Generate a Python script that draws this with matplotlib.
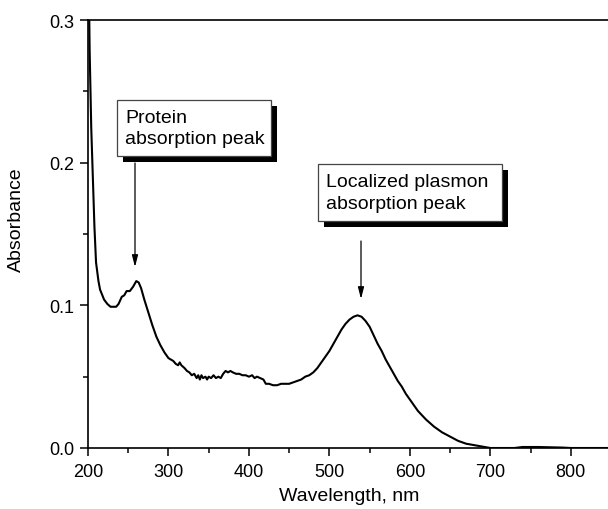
import matplotlib
matplotlib.use("Agg")
import matplotlib.pyplot as plt
from matplotlib.patches import Rectangle

plt.rcParams['font.family'] = ['Liberation Sans', 'DejaVu Sans']

wavelength = [200, 201, 202, 204, 206, 208, 210, 213, 215, 220, 224, 228, 232, 235, 238,
              242, 245, 248, 252, 256, 260, 263, 266, 270, 275, 280, 285, 290, 295,
              300, 303, 306, 309, 312, 314, 316, 318, 320, 323, 326, 329, 332, 335, 337,
              339, 341, 343, 346, 348, 350, 353, 356, 359, 362, 365, 368, 371, 374, 377,
              380, 384, 388, 392, 396, 400, 404, 407, 410, 414, 418, 421, 425, 430, 435,
              440, 445, 450, 455, 460, 465, 470, 475, 480, 485, 490, 495, 500, 505, 510,
              515, 520, 525, 530, 535, 540, 545, 550, 555, 560, 565, 570, 575, 580, 585,
              590, 595, 600, 610, 620, 630, 640, 650, 660, 670, 680, 690, 700, 730, 740,
              760, 790, 800, 850]
absorbance = [0.45, 0.33, 0.28, 0.225, 0.19, 0.155, 0.13, 0.117, 0.111, 0.104, 0.101, 0.099,
              0.099, 0.099, 0.101, 0.106, 0.107, 0.110, 0.110, 0.113, 0.117, 0.116, 0.112,
              0.104, 0.095, 0.086, 0.078, 0.072, 0.067,
              0.063, 0.062, 0.061, 0.059, 0.058, 0.060, 0.058, 0.057, 0.056, 0.054, 0.053,
              0.051, 0.052, 0.049, 0.051, 0.048, 0.051, 0.049, 0.050, 0.048, 0.050, 0.049,
              0.051, 0.049, 0.050, 0.049, 0.052, 0.054, 0.053, 0.054, 0.053, 0.052, 0.052,
              0.051, 0.051, 0.050, 0.051, 0.049, 0.050, 0.049, 0.048, 0.045, 0.045, 0.044,
              0.044, 0.045, 0.045, 0.045, 0.046, 0.047, 0.048, 0.050, 0.051, 0.053, 0.056,
              0.060, 0.064, 0.068, 0.073, 0.078, 0.083, 0.087, 0.090, 0.092, 0.093, 0.092,
              0.089, 0.085, 0.079, 0.073, 0.068, 0.062, 0.057, 0.052, 0.047, 0.043, 0.038,
              0.034, 0.026, 0.020, 0.015, 0.011, 0.008, 0.005, 0.003, 0.002, 0.001, 0.0,
              0.0, 0.0007, 0.0007, 0.0003, 0.0, 0.0]

xticks = [200, 300, 400, 500, 600, 700, 800]
yticks = [0.0, 0.1, 0.2, 0.3]
ytick_labels = ["0.0", "0.1", "0.2", "0.3"]

label1 = "Protein\nabsorption peak"
label2 = "Localized plasmon\nabsorption peak"

fig = plt.figure(figsize=(6.08, 5.10), dpi=100)
W, H = 608, 510
ax = fig.add_axes([88 / W, 1 - 449 / H, 523 / W, 428 / H])

ax.plot(wavelength, absorbance, color='black', lw=1.5, clip_on=True)
ax.set_xlim(200, 850)
ax.set_ylim(0, 0.3)

ax.set_xticks(xticks)
ax.set_xticks([250, 350, 450, 550, 650, 750, 850], minor=True)
ax.set_yticks(yticks)
ax.set_yticklabels(ytick_labels)
ax.set_yticks([0.05, 0.15, 0.25], minor=True)
ax.tick_params(which='major', direction='out', length=6, width=1.1, labelsize=13)
ax.tick_params(axis='y', which='major', pad=4)
ax.tick_params(axis='x', which='major', pad=5)
ax.tick_params(which='minor', direction='out', length=3.5, width=1.1)
for s in ['left', 'bottom', 'top']:
    ax.spines[s].set_linewidth(1.2)
ax.spines['right'].set_visible(False)

ax.set_xlabel("Wavelength, nm", fontsize=14, labelpad=5)
ax.set_ylabel("Absorbance", fontsize=14)
ax.yaxis.set_label_coords(-0.120, 0.535)

fig.canvas.draw()
inv = ax.transData.inverted()


def px2data(px, py):
    # pixel coords from top-left of image
    return inv.transform((px, H - py))


def shadow_box(x0, y0, x1, y1, text, off=6):
    fig.patches.append(Rectangle(((x0 + off) / W, 1 - (y1 + off) / H), (x1 - x0) / W, (y1 - y0) / H,
                                 transform=fig.transFigure, facecolor='black', edgecolor='black',
                                 lw=0, zorder=5))
    fig.patches.append(Rectangle((x0 / W, 1 - y1 / H), (x1 - x0) / W, (y1 - y0) / H,
                                 transform=fig.transFigure, facecolor='white', edgecolor='#444444',
                                 lw=0.9, zorder=6))
    fig.text((x0 + 8) / W, 1 - (y0 + (y1 - y0) / 2) / H, text, fontsize=14, va='center',
             ha='left', linespacing=1.35, zorder=7)


shadow_box(117, 101, 271, 157, label1)
shadow_box(318, 165, 502, 222, label2)

a1s = px2data(135, 164)
a1e = px2data(135, 268)
a2s = px2data(361, 242)
a2e = px2data(361, 300)
for s, e in [(a1s, a1e), (a2s, a2e)]:
    ax.annotate("", xy=e, xytext=s,
                arrowprops=dict(arrowstyle='-|>,head_length=0.7,head_width=0.18', color='black',
                                lw=0.9, shrinkA=0, shrinkB=0))

fig.savefig("out.png", dpi=100)
